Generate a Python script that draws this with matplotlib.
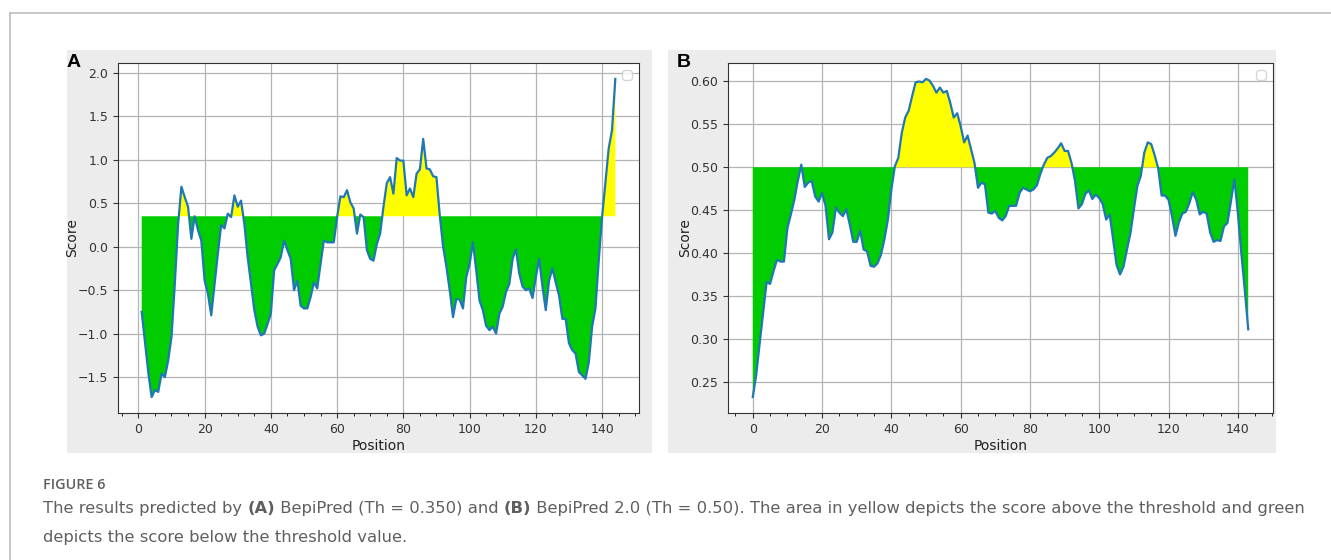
import matplotlib

matplotlib.use("Agg")
import matplotlib.pyplot as plt
import numpy as np
from matplotlib.lines import Line2D
from matplotlib.patches import Rectangle
from matplotlib.ticker import MultipleLocator

W, H = 1331, 560

# BepiPred scores (panel A), positions 1..144
positions_a = np.arange(1, 145)
scores_a = [
    -0.75, -1.10, -1.45, -1.73, -1.65, -1.67, -1.46, -1.50, -1.31, -1.04,
    -0.43, 0.26, 0.69, 0.57, 0.46, 0.09, 0.35, 0.19, 0.07, -0.39,
    -0.54, -0.79, -0.43, -0.08, 0.25, 0.21, 0.38, 0.34, 0.59, 0.46,
    0.53, 0.26, -0.12, -0.43, -0.73, -0.92, -1.02, -1.00, -0.89, -0.77,
    -0.27, -0.20, -0.12, 0.07, -0.04, -0.14, -0.50, -0.39, -0.68, -0.71,
    -0.71, -0.58, -0.41, -0.48, -0.20, 0.07, 0.05, 0.05, 0.05, 0.34,
    0.58, 0.57, 0.65, 0.51, 0.44, 0.15, 0.37, 0.34, -0.04, -0.14,
    -0.16, 0.03, 0.15, 0.46, 0.73, 0.80, 0.61, 1.02, 0.99, 0.99,
    0.59, 0.67, 0.57, 0.84, 0.89, 1.24, 0.90, 0.89, 0.81, 0.80,
    0.36, 0.00, -0.23, -0.50, -0.81, -0.60, -0.61, -0.71, -0.35, -0.20,
    0.05, -0.27, -0.62, -0.73, -0.91, -0.96, -0.92, -1.00, -0.77, -0.69,
    -0.52, -0.43, -0.14, -0.03, -0.31, -0.46, -0.50, -0.48, -0.59, -0.35,
    -0.14, -0.46, -0.73, -0.39, -0.25, -0.41, -0.56, -0.83, -0.83, -1.11,
    -1.19, -1.23, -1.44, -1.48, -1.52, -1.33, -0.92, -0.71, -0.16, 0.34,
    0.74, 1.13, 1.34, 1.93,
]
threshold_a = 0.35

# BepiPred 2.0 scores (panel B), positions 0..143
positions_b = np.arange(0, 144)
scores_b = [
    0.232, 0.258, 0.295, 0.330, 0.366, 0.364, 0.379, 0.392, 0.390, 0.390,
    0.429, 0.445, 0.462, 0.484, 0.503, 0.477, 0.482, 0.484, 0.466, 0.460,
    0.470, 0.455, 0.416, 0.424, 0.453, 0.447, 0.443, 0.451, 0.433, 0.413,
    0.413, 0.426, 0.404, 0.402, 0.385, 0.384, 0.388, 0.398, 0.416, 0.439,
    0.474, 0.501, 0.511, 0.540, 0.558, 0.566, 0.583, 0.599, 0.600, 0.599,
    0.603, 0.601, 0.595, 0.587, 0.593, 0.587, 0.589, 0.575, 0.558, 0.563,
    0.548, 0.529, 0.537, 0.521, 0.505, 0.476,
    0.482, 0.480, 0.447, 0.446, 0.449, 0.441, 0.438, 0.443,
    0.455, 0.455, 0.455, 0.470, 0.476, 0.474, 0.472, 0.474, 0.479, 0.492,
    0.503, 0.511, 0.513, 0.517, 0.522, 0.528, 0.519, 0.519, 0.505, 0.484,
    0.452, 0.457, 0.469, 0.473, 0.463, 0.468, 0.464, 0.457, 0.439, 0.445,
    0.416, 0.386, 0.375, 0.384, 0.404, 0.423, 0.451, 0.478, 0.490, 0.517,
    0.529, 0.527, 0.514, 0.499, 0.467, 0.467, 0.462, 0.443, 0.420, 0.436,
    0.446, 0.448, 0.458, 0.471, 0.462, 0.445, 0.448, 0.446, 0.424, 0.413,
    0.415, 0.414, 0.431, 0.435, 0.460, 0.486, 0.447, 0.400, 0.357, 0.311,
]
threshold_b = 0.50

caption_head = "FIGURE 6"
caption_line1 = [
    ("The results predicted by ", "normal"),
    ("(A)", "bold"),
    (" BepiPred (Th = 0.350) and ", "normal"),
    ("(B)", "bold"),
    (" BepiPred 2.0 (Th = 0.50). The area in yellow depicts the score above the threshold and green", "normal"),
]
caption_line2 = [("depicts the score below the threshold value.", "normal")]


def px_rect(x0, y0, x1, y1):
    # pixel box (top-left origin) -> figure fraction [left, bottom, width, height]
    return [x0 / W, 1 - y1 / H, (x1 - x0) / W, (y1 - y0) / H]


def draw_panel(ax, x, y, th):
    x = np.asarray(x)
    y = np.asarray(y, dtype=float)
    ax.fill_between(x, y, th, where=y >= th, interpolate=True, color="#ffff00", lw=0)
    ax.fill_between(x, y, th, where=y <= th, interpolate=True, color="#00cc00", lw=0)
    ax.plot(x, y, color="#1f77b4", lw=1.6)
    ax.grid(True, color="#b4b4b4", lw=0.9)
    ax.set_axisbelow(True)
    ax.xaxis.set_major_locator(MultipleLocator(20))
    ax.xaxis.set_minor_locator(MultipleLocator(5))
    ax.tick_params(labelsize=9, colors="#333333", labelcolor="#333333")
    for s in ax.spines.values():
        s.set_color("#333333")
    ax.set_xlabel("Position", fontsize=10, color="#222222", labelpad=2)
    ax.set_ylabel("Score", fontsize=10, color="#222222", labelpad=-1)
    ax.legend(handles=[], loc="upper right", borderpad=0.35)


def rich_line(fig, x, y, parts, **kw):
    renderer = fig.canvas.get_renderer()
    for text, weight in parts:
        t = fig.text(x, y, text, fontweight=weight, **kw)
        x += t.get_window_extent(renderer).width / fig.bbox.width


def main() -> None:
    fig = plt.figure(figsize=(W / 100, H / 100), dpi=100)
    fig.patch.set_facecolor("white")

    # outer frame of the page
    fig.add_artist(Line2D([10 / W, 1.0], [1 - 13 / H] * 2, color="#bdbdbd", lw=1.2))
    fig.add_artist(Line2D([10 / W] * 2, [0.0, 1 - 13 / H], color="#bdbdbd", lw=1.2))

    # grey screenshot backgrounds
    for box in [(66.7, 50, 652, 453), (668, 50, 1276, 453)]:
        l, b, w, h = px_rect(*box)
        fig.add_artist(Rectangle((l, b), w, h, transform=fig.transFigure,
                                 facecolor="#ececec", edgecolor="none", zorder=0))

    ax_a = fig.add_axes(px_rect(118, 63, 639, 413))
    ax_b = fig.add_axes(px_rect(728, 63, 1273, 413))
    draw_panel(ax_a, positions_a, scores_a, threshold_a)
    draw_panel(ax_b, positions_b, scores_b, threshold_b)

    fig.text(67 / W, 1 - 54 / H, "A", fontsize=14, fontweight="bold", va="top",
             family="Liberation Sans")
    fig.text(677 / W, 1 - 54 / H, "B", fontsize=14, fontweight="bold", va="top",
             family="Liberation Sans")

    cap_kw = dict(color="#5f5f5f", va="baseline")
    fig.text(43 / W, 1 - 489 / H, caption_head, fontsize=10.4, fontweight="semibold",
             family="Open Sans", **cap_kw)
    rich_line(fig, 43 / W, 1 - 513 / H, caption_line1, fontsize=11.83,
              family="DejaVu Sans", **cap_kw)
    rich_line(fig, 43 / W, 1 - 542 / H, caption_line2, fontsize=11.83,
              family="DejaVu Sans", **cap_kw)

    fig.savefig("out.png", dpi=100)
    plt.close(fig)


if __name__ == "__main__":
    main()
